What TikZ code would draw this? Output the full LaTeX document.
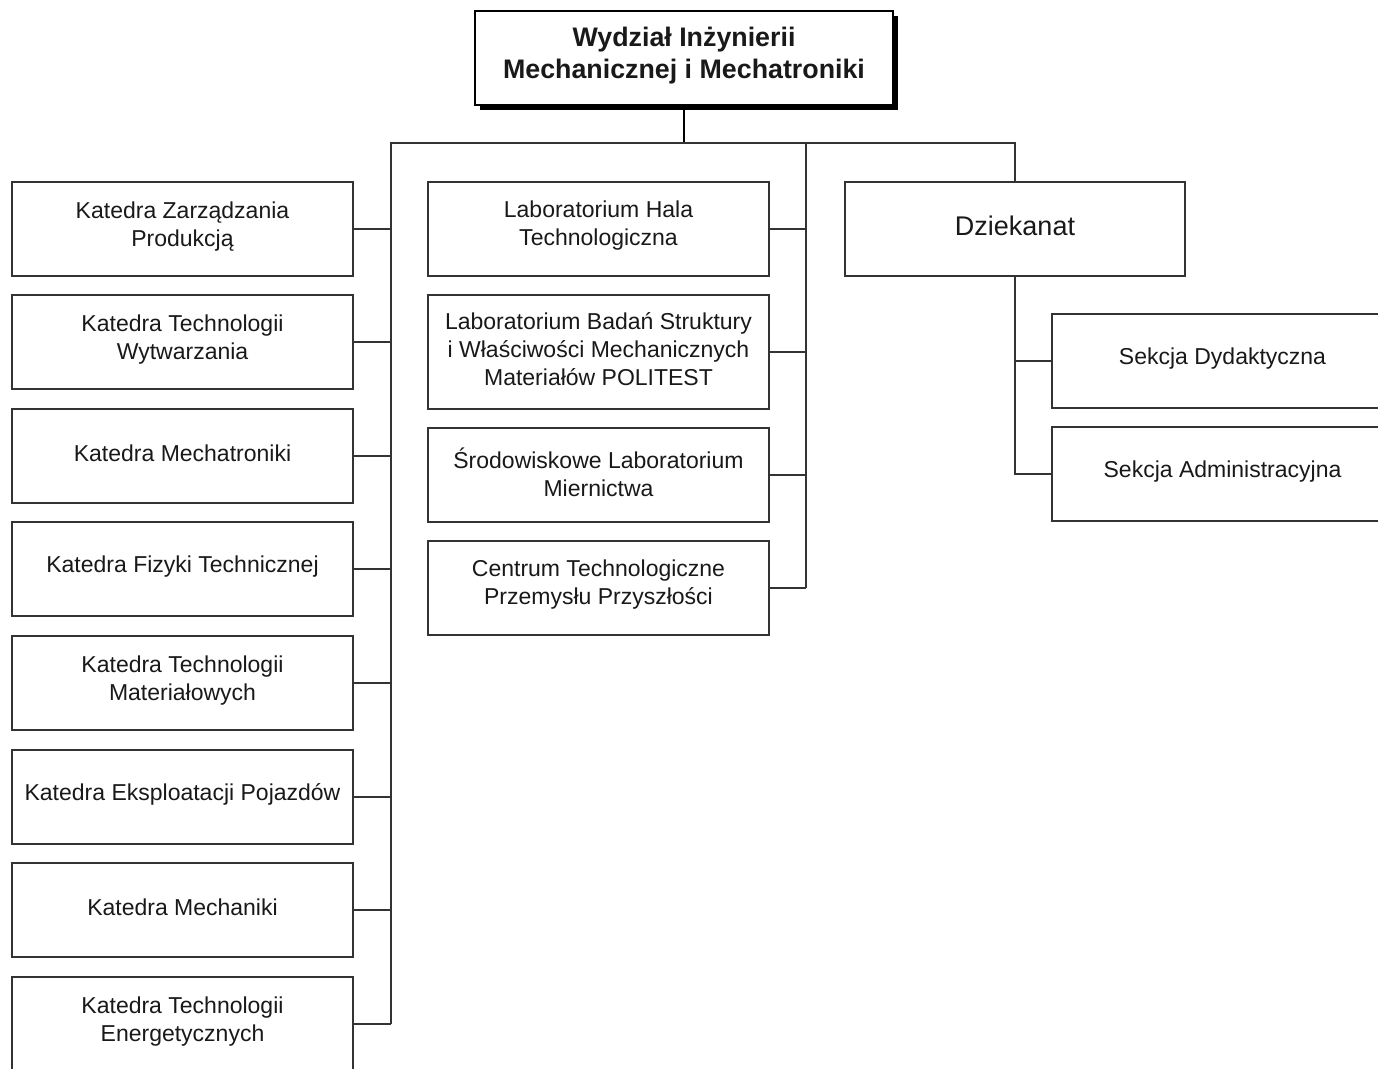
\documentclass[tikz,border=0pt]{standalone}
\usepackage{fontspec}
\setmainfont{Liberation Sans}
\usetikzlibrary{shadows}
\begin{document}
\begin{tikzpicture}[x=1pt,y=-1pt,
  box/.style={draw=black!80, line width=1.3pt, fill=white,
    minimum width=341pt, minimum height=94pt, inner sep=0pt},
  lbl/.style={align=center, inner sep=0pt, text=black!90,
    font=\fontsize{23}{28}\selectfont},
  link/.style={draw=black!80, line width=1.3pt}]
\useasboundingbox (0,0) rectangle (1378,1068);

% faculty (root)
\node[box, minimum width=418pt, draw=black, line width=1.5pt,
  drop shadow={shadow xshift=5pt, shadow yshift=-5pt, fill=black, opacity=1}]
  (fac) at (684,58) {};
\node[lbl, font=\bfseries\fontsize{26.8}{32}\selectfont] (facT) at (684,56)
  {Wydział Inżynierii\\Mechanicznej i Mechatroniki};

% trunk points
\coordinate (hub) at (684,143);
\coordinate (bl) at (391,143);
\coordinate (bm) at (806,143);
\coordinate (br) at (1015,143);

% departments (left column)
\foreach \n/\y/\t in {
  k1/229/{Katedra Zarządzania\\Produkcją},
  k2/342/{Katedra Technologii\\Wytwarzania},
  k3/456/{Katedra Mechatroniki},
  k4/569/{Katedra Fizyki Technicznej},
  k5/683/{Katedra Technologii\\Materiałowych},
  k6/797/{Katedra Eksploatacji Pojazdów},
  k7/910/{Katedra Mechaniki},
  k8/1024/{Katedra Technologii\\Energetycznych}} {
  \node[box] (\n) at (182.5,\y) {};
  \node[lbl] (\n T) at (182.5,\y-2.5) {\t};
  \draw[link] (\n.east) -- (\n.east -| bl);
}

% laboratories (middle column)
\foreach \n/\y/\h/\t in {
  l1/229/94/{Laboratorium Hala\\Technologiczna},
  l2/352/114/{Laboratorium Badań Struktury\\i Właściwości Mechanicznych\\Materiałów POLITEST},
  l3/475/94/{Środowiskowe Laboratorium\\Miernictwa},
  l4/588/94/{Centrum Technologiczne\\Przemysłu Przyszłości}} {
  \node[box, minimum height=\h pt] (\n) at (598.5,\y) {};
  \node[lbl] (\n T) at (598.5,\y-3) {\t};
  \draw[link] (\n.east) -- (\n.east -| bm);
}

% dean's office and its sections
\node[box, minimum width=340pt] (dz) at (1015,229) {};
\node[lbl, font=\fontsize{27}{32}\selectfont] (dzT) at (1015,226) {Dziekanat};
\foreach \n/\y/\t in {
  s1/361/{Sekcja Dydaktyczna},
  s2/474/{Sekcja Administracyjna}} {
  \node[box] (\n) at (1222.5,\y) {};
  \node[lbl] (\n T) at (1222.5,\y-2) {\t};
}

% connectors
\draw[line width=2.5pt, black] (fac.south) -- (hub);
\draw[link] (k8.east -| bl) -- (bl) -- (br) -- (dz.north);
\draw[link] (bm) -- (l4.east -| bm);
\draw[link] (dz.south) -- (dz.south |- s2.west) -- (s2.west);
\draw[link] (s1.west) -- (s1.west -| dz.south);
\end{tikzpicture}
\end{document}
